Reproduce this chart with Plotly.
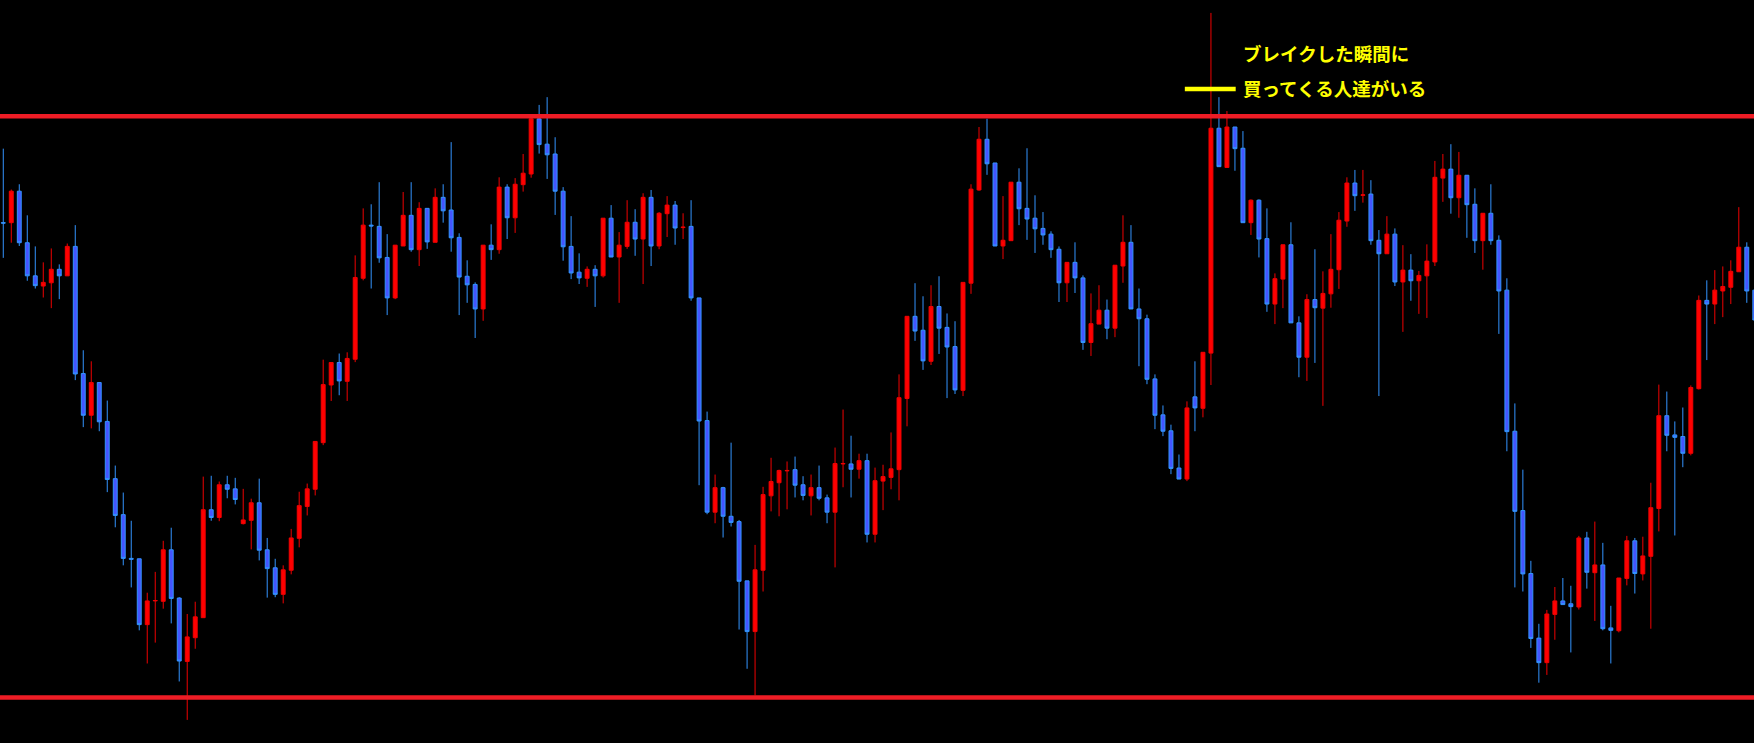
import plotly.graph_objects as go

# candle index (one bar per period)
bars = list(range(220))

opens = [
    1251, 1251, 1328, 1202, 1121, 1096, 1104, 1137, 1121, 1193,
    882, 780, 860, 765, 625, 537, 430, 429, 268, 326,
    325, 451, 333, 178, 236, 285, 549, 530, 610, 600,
    515, 523, 566, 451, 407, 342, 401, 479, 557, 599,
    713, 854, 909, 863, 917, 1115, 1245, 1242, 1166, 1067,
    1194, 1269, 1185, 1286, 1203, 1313, 1282, 1215, 1120, 1100,
    1040, 1196, 1185, 1338, 1263, 1344, 1370, 1505, 1443, 1419,
    1328, 1193, 1130, 1115, 1137, 1121, 1262, 1167, 1193, 1252,
    1211, 1313, 1194, 1273, 1294, 1239, 1242, 1067, 767, 543,
    603, 533, 520, 375, 251, 401, 583, 615, 644, 647,
    610, 583, 603, 578, 543, 661, 661, 648, 669, 489,
    619, 628, 647, 821, 1022, 988, 912, 1046, 995, 948,
    841, 1103, 1331, 1455, 1397, 1194, 1207, 1350, 1286, 1262,
    1237, 1223, 1186, 1104, 1154, 1116, 958, 1003, 1037, 993,
    1145, 1203, 1040, 1016, 869, 781, 742, 651, 624, 825,
    797, 932, 1482, 1386, 1485, 1433, 1251, 1306, 1212, 1052,
    1113, 1197, 1006, 922, 1063, 1042, 1077, 1136, 1255, 1348,
    1318, 1321, 1208, 1175, 1223, 1106, 1135, 1109, 1121, 1155,
    1360, 1382, 1312, 1367, 1296, 1207, 1274, 1208, 1086, 741,
    547, 393, 235, 175, 293, 326, 319, 311, 480, 395,
    414, 260, 253, 381, 473, 392, 435, 552, 779, 732,
    728, 687, 845, 1061, 1052, 1084, 1093, 1131, 1191, 1086,
]
highs = [
    1432, 1332, 1345, 1269, 1193, 1154, 1188, 1149, 1200, 1245,
    939, 912, 860, 816, 657, 591, 522, 429, 346, 397,
    473, 505, 335, 294, 324, 630, 632, 618, 632, 627,
    600, 576, 625, 480, 429, 413, 502, 593, 613, 716,
    916, 909, 931, 934, 1171, 1286, 1296, 1350, 1223, 1196,
    1326, 1350, 1301, 1286, 1335, 1345, 1448, 1225, 1159, 1105,
    1196, 1247, 1362, 1345, 1360, 1419, 1510, 1539, 1558, 1460,
    1338, 1267, 1176, 1144, 1147, 1262, 1294, 1228, 1306, 1284,
    1323, 1331, 1277, 1316, 1304, 1274, 1306, 1067, 789, 635,
    605, 713, 524, 375, 463, 605, 676, 647, 667, 679,
    631, 635, 657, 586, 701, 794, 730, 686, 686, 652,
    659, 738, 880, 1022, 1103, 1071, 1098, 1120, 1029, 1010,
    1105, 1345, 1485, 1505, 1397, 1316, 1350, 1384, 1433, 1318,
    1277, 1230, 1193, 1154, 1203, 1122, 1078, 1098, 1063, 1147,
    1269, 1245, 1090, 1026, 880, 804, 757, 684, 814, 912,
    934, 1764, 1558, 1524, 1485, 1475, 1308, 1308, 1286, 1127,
    1197, 1252, 1022, 1076, 1186, 1132, 1223, 1277, 1362, 1380,
    1380, 1355, 1233, 1267, 1237, 1196, 1174, 1133, 1198, 1402,
    1419, 1443, 1424, 1367, 1335, 1274, 1345, 1220, 1115, 809,
    647, 424, 270, 304, 360, 382, 363, 485, 495, 520,
    468, 314, 382, 485, 480, 483, 615, 855, 838, 765,
    799, 853, 1073, 1110, 1135, 1144, 1159, 1289, 1203, 1100,
]
lows = [
    1165, 1202, 1194, 1109, 1090, 1068, 1042, 1064, 1121, 866,
    751, 748, 741, 592, 506, 413, 359, 254, 173, 224,
    307, 271, 129, 35, 209, 285, 522, 521, 577, 562,
    513, 452, 425, 334, 335, 320, 391, 457, 535, 584,
    707, 815, 829, 815, 910, 1110, 1090, 1153, 1025, 1064,
    1194, 1180, 1145, 1187, 1203, 1251, 1180, 1025, 1055, 969,
    1011, 1160, 1175, 1211, 1226, 1327, 1361, 1420, 1358, 1270,
    1158, 1113, 1101, 1094, 1045, 1117, 1167, 1055, 1187, 1170,
    1101, 1145, 1186, 1216, 1197, 1211, 1060, 609, 538, 516,
    481, 508, 256, 160, 95, 349, 545, 533, 550, 579,
    572, 535, 572, 516, 408, 604, 579, 625, 469, 469,
    548, 599, 572, 753, 962, 891, 903, 930, 822, 832,
    827, 1077, 1329, 1368, 1194, 1162, 1207, 1245, 1209, 1177,
    1197, 1165, 1057, 1057, 1079, 940, 925, 1003, 966, 971,
    1104, 1040, 900, 856, 746, 729, 636, 624, 619, 741,
    775, 854, 1388, 1386, 1378, 1251, 1221, 1166, 1033, 1003,
    1042, 1006, 873, 864, 908, 803, 1043, 1089, 1241, 1280,
    1300, 1197, 827, 1175, 1096, 984, 1060, 1028, 1018, 1145,
    1302, 1273, 1263, 1214, 1177, 1136, 1197, 979, 692, 359,
    349, 211, 126, 145, 231, 317, 200, 305, 356, 277,
    254, 173, 249, 364, 344, 376, 258, 496, 692, 486,
    653, 682, 843, 915, 1003, 1020, 1052, 1131, 1055, 1000,
]
closes = [
    1250, 1328, 1202, 1121, 1097, 1105, 1137, 1121, 1193, 881,
    780, 860, 764, 623, 535, 430, 428, 268, 326, 327,
    451, 332, 179, 238, 287, 549, 530, 610, 599, 574,
    524, 566, 450, 405, 342, 402, 480, 559, 600, 716,
    855, 909, 864, 919, 1117, 1245, 1243, 1165, 1067, 1196,
    1269, 1185, 1286, 1204, 1313, 1280, 1214, 1118, 1099, 1040,
    1196, 1185, 1338, 1263, 1345, 1372, 1505, 1442, 1417, 1328,
    1192, 1128, 1116, 1137, 1121, 1262, 1167, 1196, 1252, 1211,
    1313, 1194, 1274, 1294, 1238, 1240, 1067, 766, 543, 603,
    533, 518, 374, 251, 402, 586, 618, 645, 645, 609,
    584, 603, 577, 543, 662, 662, 648, 669, 489, 620,
    630, 649, 823, 1022, 986, 913, 1046, 993, 947, 842,
    1105, 1333, 1455, 1395, 1194, 1208, 1350, 1285, 1260, 1236,
    1221, 1185, 1104, 1154, 1116, 958, 1004, 1037, 993, 1147,
    1203, 1040, 1016, 868, 780, 741, 650, 624, 798, 798,
    934, 1482, 1388, 1485, 1432, 1251, 1306, 1211, 1052, 1114,
    1197, 1006, 922, 1063, 1043, 1078, 1137, 1257, 1348, 1317,
    1319, 1207, 1175, 1223, 1106, 1135, 1109, 1122, 1157, 1362,
    1382, 1312, 1367, 1295, 1207, 1274, 1207, 1084, 740, 545,
    392, 234, 175, 294, 326, 317, 312, 480, 396, 414,
    258, 254, 382, 473, 393, 436, 554, 779, 731, 726,
    687, 848, 1061, 1052, 1086, 1095, 1132, 1191, 1084, 1013,
]

resistance = 1511
support = 90

note_lines = ["ブレイクした瞬間に", "買ってくる人達がいる"]


def range_break_chart():
    fig = go.Figure()

    fig.add_trace(
        go.Candlestick(
            x=bars,
            open=opens,
            high=highs,
            low=lows,
            close=closes,
            increasing=dict(line=dict(color="#f00000", width=1), fillcolor="#ff0000"),
            decreasing=dict(line=dict(color="#3394ff", width=1), fillcolor="#4455ff"),
            whiskerwidth=0,
            showlegend=False,
        )
    )

    # horizontal range lines
    for level in (resistance, support):
        fig.add_shape(
            type="line",
            xref="paper",
            yref="y",
            x0=0,
            x1=1,
            y0=level,
            y1=level,
            line=dict(color="#ee1c25", width=4.5),
        )

    # yellow marker next to the note
    fig.add_shape(
        type="line",
        xref="paper",
        yref="paper",
        x0=0.6755,
        x1=0.7045,
        y0=0.8802,
        y1=0.8802,
        line=dict(color="#ffff00", width=4.5),
    )

    for text, ypos in zip(note_lines, (0.9287, 0.8816)):
        fig.add_annotation(
            text=text,
            xref="paper",
            yref="paper",
            x=0.7076,
            y=ypos,
            xanchor="left",
            yanchor="middle",
            showarrow=False,
            font=dict(family="Noto Sans CJK JP", size=18.5, color="#ffff00", weight=700),
        )

    fig.update_layout(
        width=1754,
        height=743,
        margin=dict(l=0, r=0, t=0, b=0),
        paper_bgcolor="#000000",
        plot_bgcolor="#000000",
        showlegend=False,
        xaxis=dict(visible=False, range=[-0.41, 218.9], rangeslider=dict(visible=False)),
        yaxis=dict(visible=False, range=[-21.5, 1795.6]),
    )

    return fig


fig = range_break_chart()
fig.write_html(
    "out.html",
    config={"displayModeBar": False},
    post_script="document.body.style.margin='0';document.body.style.background='#000';",
)
